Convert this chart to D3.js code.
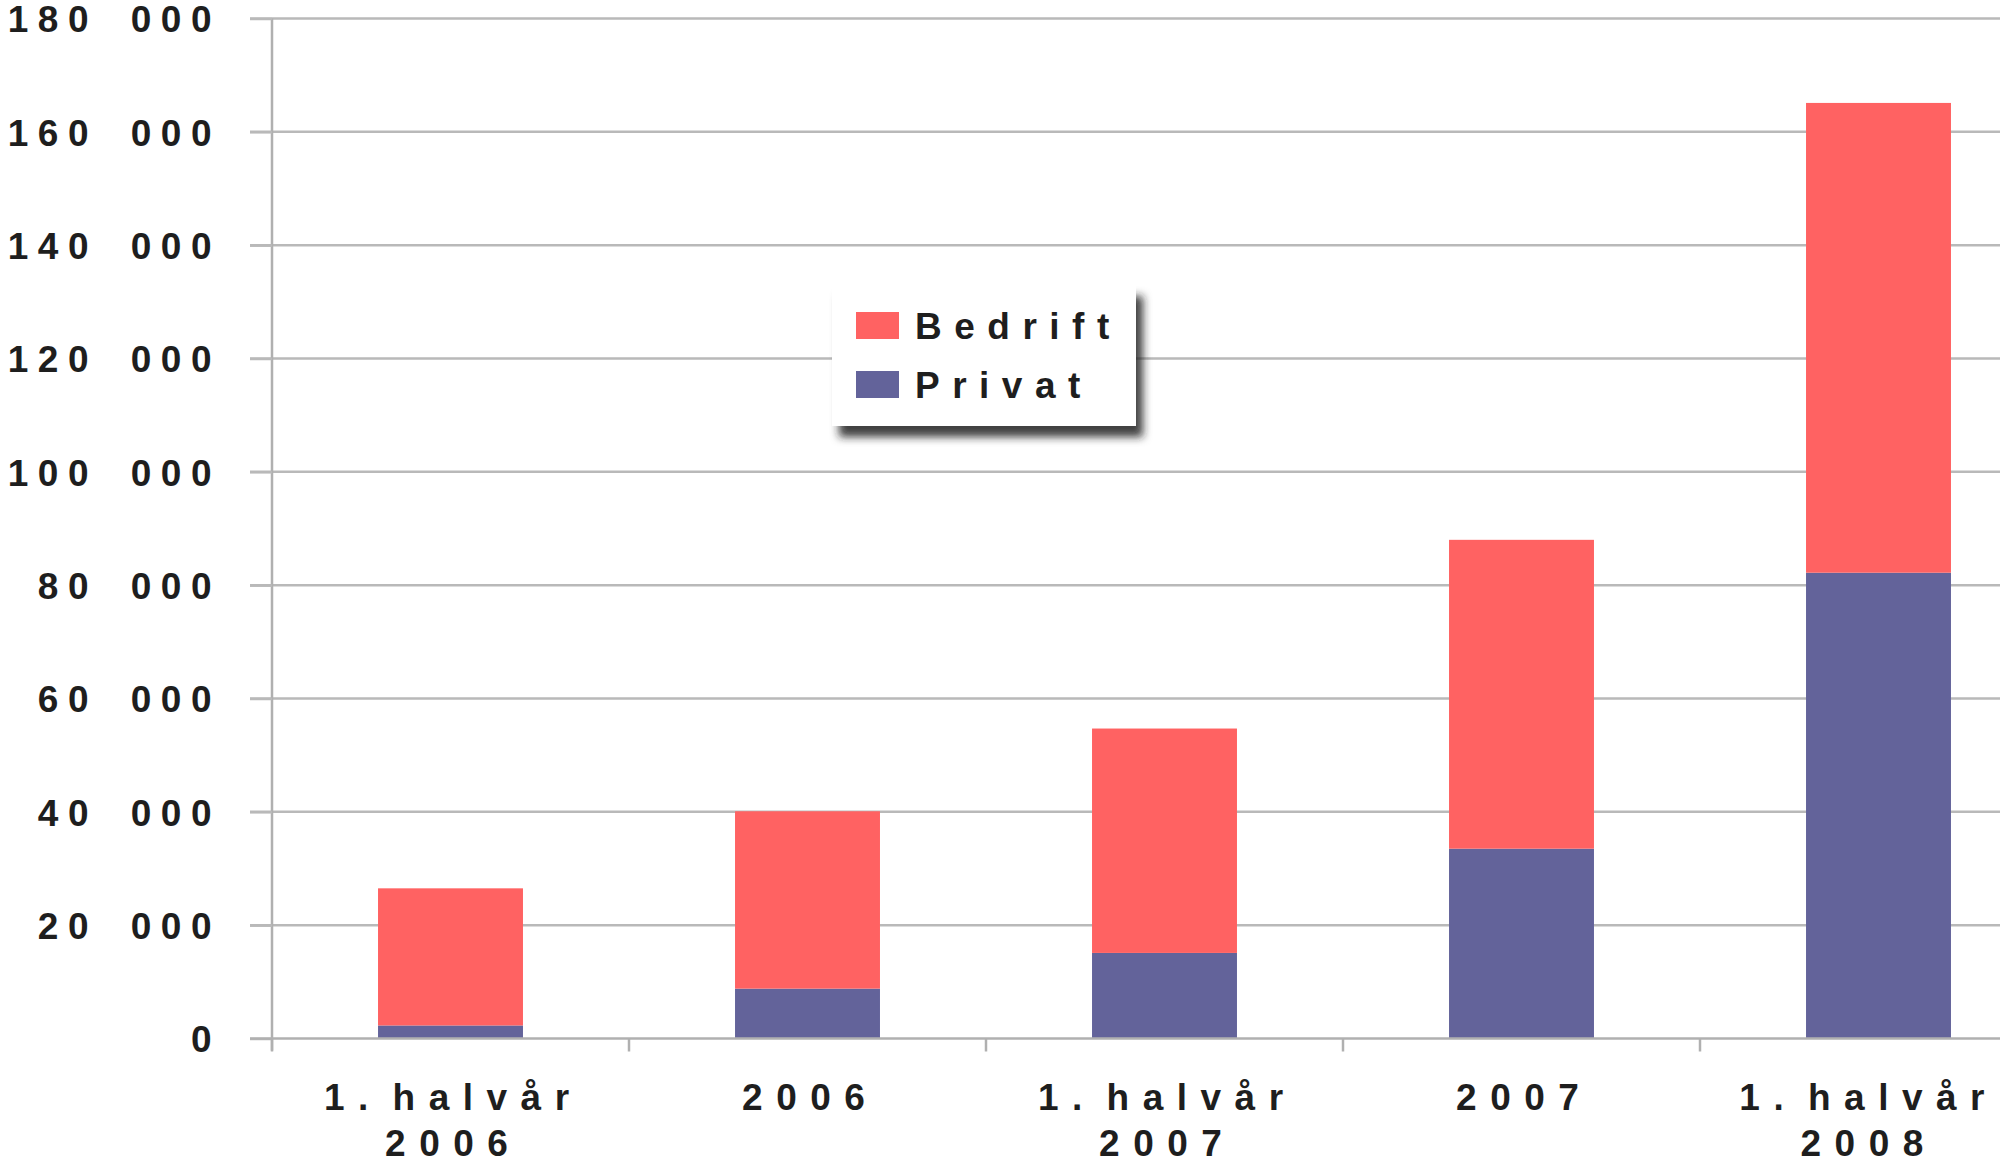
<!DOCTYPE html>
<html>
<head>
<meta charset="utf-8">
<script src="https://cdn.jsdelivr.net/npm/d3@7"></script>
<style>
  html, body { margin: 0; padding: 0; background: #fff; }
  svg { display: block; }
  text { font-family: "Liberation Sans", Arial, sans-serif; font-weight: bold; fill: #1e1e1e; }
</style>
</head>
<body>
<svg id="chart" width="2000" height="1164"></svg>
<script>
// ---- data ----
const categories = [["1. halvår", "2006"], ["2006"], ["1. halvår", "2007"], ["2007"], ["1. halvår", "2008"]];
const privat  = [2300, 8800, 15100, 33500, 82200];
const bedrift = [24200, 31300, 39600, 54500, 82900];
const seriesNames = ["Privat", "Bedrift"];
const yTicks = [0, 20000, 40000, 60000, 80000, 100000, 120000, 140000, 160000, 180000];

// ---- setup ----
const colors = { Privat: "#63639a", Bedrift: "#ff6262" };
const svg = d3.select("#chart");
const FS = 37;
const YLS = 9.5, XLS = 13.5, LLS = 12.5;

const keys = categories.map(c => c.join(" "));
const x = d3.scaleBand().domain(keys).range([272, 2057]).padding(0);
const y = d3.scaleLinear().domain([0, 180000]).range([1038.5, 18.5]);

const locale = d3.formatLocale({ decimal: ",", thousands: " ", grouping: [3], currency: ["", ""] });
const fmt = locale.format(",");

const rows = keys.map((k, i) => ({ key: k, Privat: privat[i], Bedrift: bedrift[i] }));
const stacked = d3.stack().keys(seriesNames)(rows);

// gridlines
svg.append("g").selectAll("line").data(yTicks.slice(1)).join("line")
  .attr("x1", 250).attr("x2", 2000)
  .attr("y1", d => y(d)).attr("y2", d => y(d))
  .attr("stroke", "#b9b9b9").attr("stroke-width", 2.5);

// y axis
const yAxis = svg.append("g").attr("transform", "translate(272,0)")
  .call(d3.axisLeft(y).tickValues(yTicks).tickFormat(fmt).tickSize(22).tickPadding(29));
yAxis.select(".domain").attr("stroke", "#b0b0b0").attr("stroke-width", 2.5)
  .attr("d", `M0,${y(180000)}V${y(0) + 12}`);
yAxis.selectAll(".tick line").attr("stroke", "#b9b9b9").attr("stroke-width", 2.5);
yAxis.selectAll(".tick text")
  .attr("font-size", FS).attr("letter-spacing", YLS + "px").attr("word-spacing", "13px")
  .attr("font-family", "Liberation Sans, Arial, sans-serif")
  .attr("font-weight", "bold").attr("fill", "#1e1e1e")
  .attr("dy", "0.36em");

// bars
const bw = x.bandwidth() * 0.406;
svg.append("g").selectAll("g").data(stacked).join("g")
  .attr("fill", d => colors[d.key])
  .selectAll("rect").data(d => d).join("rect")
  .attr("x", d => x(d.data.key) + (x.bandwidth() - bw) / 2)
  .attr("width", bw)
  .attr("y", d => y(d[1]))
  .attr("height", d => y(d[0]) - y(d[1]));

// x axis line and ticks at band boundaries
svg.append("line").attr("x1", 250).attr("x2", 2000)
  .attr("y1", y(0)).attr("y2", y(0))
  .attr("stroke", "#b0b0b0").attr("stroke-width", 2.5);
const bounds = keys.map(k => x(k)).concat([x(keys[keys.length - 1]) + x.bandwidth()]);
svg.append("g").selectAll("line").data(bounds).join("line")
  .attr("x1", d => d).attr("x2", d => d)
  .attr("y1", y(0)).attr("y2", y(0) + 13)
  .attr("stroke", "#b0b0b0").attr("stroke-width", 2.5);

// x labels
const xl = svg.append("g").selectAll("text").data(categories).join("text")
  .attr("text-anchor", "middle")
  .attr("font-size", FS).attr("letter-spacing", XLS + "px").attr("word-spacing", "-13px")
  .attr("transform", (d, i) => `translate(${x(keys[i]) + x.bandwidth() / 2 + XLS / 2 - 4},0)`);
xl.selectAll("tspan").data(d => d).join("tspan")
  .attr("x", 0)
  .attr("y", (d, i) => 1110 + i * 46)
  .text(d => d);
// keep labels inside the picture's right edge
xl.each(function (d, i) {
  const bb = this.getBBox();
  const cx = x(keys[i]) + x.bandwidth() / 2 + XLS / 2 - 4;
  const over = cx + bb.x + bb.width - 1998;
  if (over > 0) d3.select(this).attr("transform", `translate(${cx - over},0)`);
});

// legend
const defs = svg.append("defs");
const f = defs.append("filter").attr("id", "shadow").attr("x", "-20%").attr("y", "-20%").attr("width", "150%").attr("height", "160%");
f.append("feDropShadow").attr("dx", 7).attr("dy", 11).attr("stdDeviation", 4)
  .attr("flood-color", "#222").attr("flood-opacity", 0.85);

const lg = svg.append("g").attr("transform", "translate(832,285)");
lg.append("rect").attr("width", 304).attr("height", 141).attr("fill", "#fff").attr("filter", "url(#shadow)");
const legendItems = ["Bedrift", "Privat"];
const li = lg.selectAll("g.item").data(legendItems).join("g").attr("class", "item")
  .attr("transform", (d, i) => `translate(24,${27 + i * 59})`);
li.append("rect").attr("width", 43).attr("height", 27).attr("fill", d => colors[d]);
li.append("text").attr("x", 59).attr("y", 27)
  .attr("font-size", FS).attr("letter-spacing", LLS + "px")
  .text(d => d);
</script>
</body>
</html>
